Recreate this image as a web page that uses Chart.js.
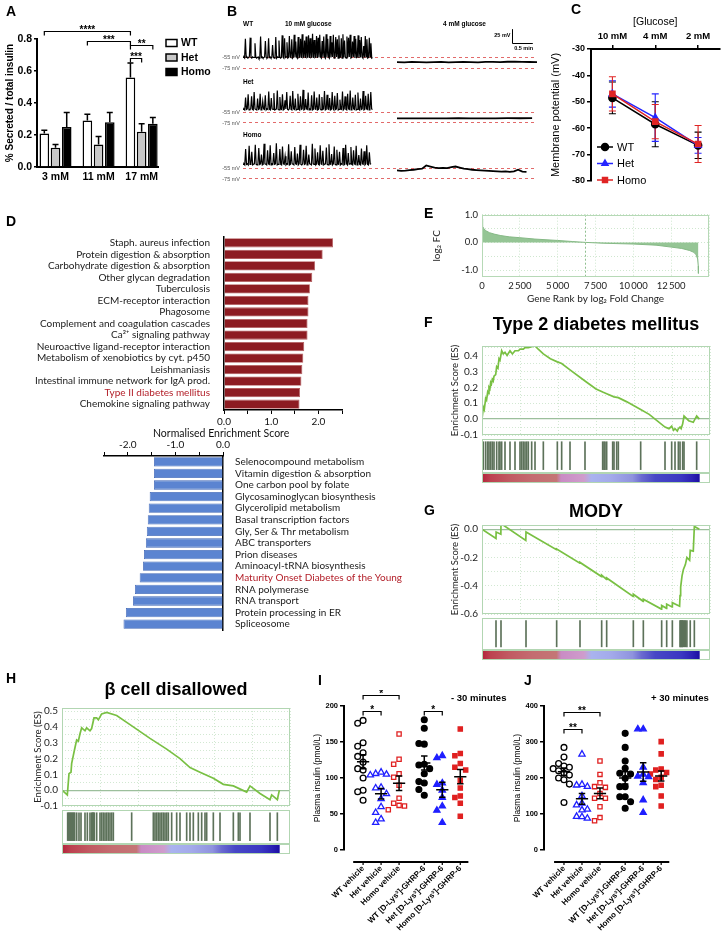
<!DOCTYPE html>
<html lang="en">
<head>
<meta charset="utf-8">
<title>Figure</title>
<script src="https://cdn.jsdelivr.net/npm/chart.js@4.4.1/dist/chart.umd.min.js"></script>
<style>
  html, body { margin: 0; padding: 0; background: #fff; }
  #fig { position: relative; width: 725px; height: 938px; overflow: hidden; font-family: "Liberation Sans", Arial, sans-serif; color: #000; }
  #fig canvas { position: absolute; }
  .t { position: absolute; line-height: 1; white-space: nowrap; will-change: transform; }
  .panel { font-size: 14px; font-weight: bold; }
  .trace { font-size: 6.5px; font-weight: bold; color: #000; }
  .gsea { font-size: 18px; font-weight: bold; transform: translateX(-50%); }
  .time { font-size: 9.5px; font-weight: bold; }
  .nes { font-family: Lato, "Open Sans", sans-serif; font-size: 10.5px; color: #111; }
</style>
</head>
<body>
<div id="fig">
  <div class="t panel" style="left:6px;top:4px">A</div>
  <div class="t panel" style="left:227px;top:4px">B</div>
  <div class="t panel" style="left:571px;top:2px">C</div>
  <div class="t panel" style="left:6px;top:214px">D</div>
  <div class="t panel" style="left:424px;top:206px">E</div>
  <div class="t panel" style="left:424px;top:315px">F</div>
  <div class="t panel" style="left:424px;top:503px">G</div>
  <div class="t panel" style="left:6px;top:671px">H</div>
  <div class="t panel" style="left:318px;top:673px">I</div>
  <div class="t panel" style="left:524px;top:673px">J</div>

  <div class="t trace" style="left:243px;top:21px">WT</div>
  <div class="t trace" style="left:285px;top:21px">10 mM glucose</div>
  <div class="t trace" style="left:443px;top:21px">4 mM glucose</div>
  <div class="t trace" style="left:243px;top:79px">Het</div>
  <div class="t trace" style="left:243px;top:132px">Homo</div>

  <div class="t nes" style="left:153px;top:428px">Normalised Enrichment Score</div>

  <div class="t gsea" style="left:596px;top:315px">Type 2 diabetes mellitus</div>
  <div class="t gsea" style="left:596px;top:502px">MODY</div>
  <div class="t gsea" style="left:176px;top:680px">β cell disallowed</div>

  <div class="t time" style="left:451px;top:693px">- 30 minutes</div>
  <div class="t time" style="left:651px;top:693px">+ 30 minutes</div>
</div>
<script>
// ---------- data ----------
// A: insulin secretion
const doses = ['3 mM', '11 mM', '17 mM'];
const secretedWT = [0.21, 0.29, 0.56];
const secretedWTErr = [0.02, 0.04, 0.09];
const secretedHet = [0.12, 0.14, 0.22];
const secretedHetErr = [0.02, 0.05, 0.05];
const secretedHomo = [0.25, 0.28, 0.27];
const secretedHomoErr = [0.09, 0.06, 0.04];
// [dataset, dose] pairs joined by a bracket
const secretionSig = [
  { from: [0, 0], to: [0, 2], at: 0.85, text: '****' },
  { from: [0, 1], to: [0, 2], at: 0.79, text: '***' },
  { from: [0, 2], to: [2, 2], at: 0.76, text: '**' },
  { from: [0, 2], to: [1, 2], at: 0.68, text: '***' },
];

// B: membrane potential recordings (mV), sampled evenly over each window (s)
const traceWT10 = [-55,-54,-56,-22,-55,-54,-56,-55,-53,-20,-55,-56,-54,-55,-55,-30,-54,-56,-55,-54,-57,-56,-18,-55,-54,-56,-55,-54,-26,-55,-56,-54,-21,-55,-54,-56,-55,-33,-54,-56,-55,-19,-56,-54,-55,-25,-54,-56,-55,-16,-54,-56,-21,-55,-54,-28,-56,-55,-17,-54,-55,-23,-56,-54,-15,-55,-27,-54,-56,-19,-55,-54,-22,-56,-14,-55,-54,-25,-56,-18,-55,-54,-16,-56,-21,-55,-54,-13,-56,-24,-55,-54,-17,-56,-20,-55,-15,-54,-56,-26,-55,-18,-54,-56,-14,-55,-22,-54,-56,-17,-55,-28,-54,-15,-56,-55,-19,-54,-23,-56,-16,-55,-54,-21,-56,-14,-55,-25,-54,-56,-18,-55,-20,-54,-15,-56,-55,-27,-54,-17,-56,-22,-55,-54,-16,-56,-24,-55,-19,-54,-56,-35,-55,-17,-54,-23,-56,-55,-20,-54,-30,-56,-55];
const traceWT4 = [-63,-63.5,-62.8,-63.2,-63.6,-63,-62.7,-63.4,-63.1,-62.9,-63.3,-63.5,-62.6,-62.8,-63,-62.5,-62.2,-62.6,-62.9,-63.1];
const traceHet10 = [-50,-49,-51,-28,-50,-49,-22,-51,-50,-49,-26,-50,-51,-18,-49,-50,-51,-30,-50,-49,-21,-51,-50,-35,-49,-50,-24,-51,-49,-50,-17,-50,-51,-29,-49,-50,-20,-51,-50,-49,-15,-50,-51,-27,-49,-50,-22,-51,-50,-33,-49,-18,-50,-51,-49,-25,-50,-51,-16,-49,-50,-30,-51,-50,-21,-49,-51,-26,-50,-49,-14,-51,-50,-31,-49,-50,-19,-51,-49,-50,-24,-51,-50,-17,-49,-50,-28,-51,-50,-22,-49,-51,-27,-50,-49,-16,-51,-50,-23,-49,-50,-29,-51,-50,-18,-49,-51,-25,-50,-49,-20,-51,-50,-32,-49,-50,-17,-51,-49,-26,-50,-51,-21,-49,-50,-15,-51,-50,-28,-49,-50,-23,-51,-50,-19,-49,-51,-30,-50,-49,-16,-51,-50,-25,-49,-50,-21,-51,-50,-18,-49,-50];
const traceHet4 = [-66.5,-66.6,-66.4,-66.5,-66.5,-66.3,-66.4,-66.5,-66.4,-66.2,-66.3,-66.2];
const traceHomo10 = [-48,-47,-49,-20,-48,-47,-49,-14,-48,-47,-25,-49,-48,-47,-12,-48,-49,-47,-18,-48,-47,-30,-49,-48,-10,-47,-48,-49,-22,-47,-48,-13,-49,-47,-48,-27,-48,-47,-9,-49,-48,-47,-20,-48,-49,-15,-47,-48,-33,-49,-47,-48,-11,-49,-48,-24,-47,-48,-49,-16,-47,-48,-28,-49,-47,-12,-48,-49,-47,-21,-48,-47,-14,-49,-48,-30,-47,-48,-49,-10,-47,-48,-19,-49,-47,-26,-48,-49,-13,-47,-48,-23,-49,-48,-47,-17,-48,-49,-11,-47,-48,-29,-49,-47,-15,-48,-49,-21,-47,-48,-25,-49,-47,-48,-18,-49,-48,-12,-47,-49,-27,-48,-47,-16,-48,-49,-22,-47,-48,-14,-49,-47,-31,-48,-49,-19,-47,-48,-24,-49,-47,-13,-48,-49,-26,-47,-48];
const traceHomo4 = [-59,-60,-59.5,-58.5,-58,-57,-56,-50,-52,-54,-55,-54.5,-55,-53,-52,-54,-56,-57,-58,-58.5,-59,-59.5,-60,-60.5,-61,-61.5,-61,-62,-61,-58,-61.5,-62];
const windowsWT = [[0, 185], [220, 420]];
const windowsHet = [[0, 185], [220, 413]];
const windowsHomo = [[0, 183], [220, 405]];
const membraneRefs = [-75, -55];

// C: membrane potential vs glucose
const glucose = ['10 mM', '4 mM', '2 mM'];
const vmWT = [-48.5, -58.5, -66.5];
const vmWTErr = [6, 8.5, 5];
const vmHet = [-47, -56, -66.5];
const vmHetErr = [5, 9, 3];
const vmHomo = [-47, -57.5, -66];
const vmHomoErr = [6.5, 6.5, 7];

// D: KEGG pathways by normalised enrichment score
const upPathways = ['Staph. aureus infection', 'Protein digestion & absorption', 'Carbohydrate digestion & absorption',
  'Other glycan degradation', 'Tuberculosis', 'ECM-receptor interaction', 'Phagosome', 'Complement and coagulation cascades',
  'Ca²⁺ signaling pathway', 'Neuroactive ligand-receptor interaction', 'Metabolism of xenobiotics by cyt. p450',
  'Leishmaniasis', 'Intestinal immune network for IgA prod.', 'Type II diabetes mellitus', 'Chemokine signaling pathway'];
const upNES = [2.31, 2.09, 1.93, 1.87, 1.82, 1.79, 1.79, 1.77, 1.77, 1.70, 1.68, 1.66, 1.64, 1.61, 1.60];
const downPathways = ['Selenocompound metabolism', 'Vitamin digestion & absorption', 'One carbon pool by folate',
  'Glycosaminoglycan biosynthesis', 'Glycerolipid metabolism', 'Basal transcription factors', 'Gly, Ser & Thr metabolism',
  'ABC transporters', 'Prion diseases', 'Aminoacyl-tRNA biosynthesis', 'Maturity Onset Diabetes of the Young',
  'RNA polymerase', 'RNA transport', 'Protein processing in ER', 'Spliceosome'];
const downNES = [-1.45, -1.45, -1.45, -1.54, -1.56, -1.58, -1.60, -1.62, -1.66, -1.68, -1.75, -1.85, -1.89, -2.04, -2.09];
const highlighted = ['Type II diabetes mellitus', 'Maturity Onset Diabetes of the Young'];
const upTicks = [0, 0.5, 1, 1.5, 2, 2.5];
const downTicks = [-2.5, -2, -1.5, -1, -0.5, 0];

// E: ranked log2 fold change [rank, log2FC]
const foldChange = [[0, 0.85], [20, 0.7], [60, 0.58], [120, 0.5], [250, 0.42], [500, 0.35], [800, 0.3], [1200, 0.25],
  [1800, 0.2], [2500, 0.17], [3500, 0.12], [5000, 0.07], [6000, 0.03], [6830, 0], [8000, -0.03], [10000, -0.06],
  [11500, -0.1], [12500, -0.17], [13200, -0.22], [13700, -0.29], [14000, -0.36], [14150, -0.45], [14250, -0.6],
  [14290, -0.85], [14300, -1.12]];
const fcTicks = [-1, -0.5, 0, 0.5, 1];
const zeroCrossRank = 6830;
const rankMax = 15000;

// F-H: running enrichment score [rank, ES] and gene-set hit ranks
const esType2 = [[0, 0], [88, 0.075], [150, 0.06], [241, 0.13], [300, 0.12], [373, 0.17], [420, 0.16], [460, 0.2],
  [520, 0.19], [570, 0.23], [620, 0.22], [680, 0.25], [740, 0.24], [790, 0.27], [900, 0.28], [965, 0.33], [1050, 0.32],
  [1118, 0.38], [1184, 0.37], [1294, 0.43], [1400, 0.41], [1513, 0.42], [1650, 0.40], [1842, 0.43], [2000, 0.41],
  [2171, 0.43], [2400, 0.43], [2500, 0.44], [2610, 0.44], [2720, 0.44], [2829, 0.45], [2939, 0.45], [3048, 0.45],
  [3268, 0.455], [3487, 0.46], [3700, 0.44], [4035, 0.41], [4500, 0.38], [4956, 0.36], [5241, 0.35], [5790, 0.31],
  [6776, 0.24], [7500, 0.19], [7939, 0.17], [8202, 0.16], [8684, 0.14], [8969, 0.135], [9500, 0.11], [10439, 0.06],
  [11000, 0.03], [12040, -0.05], [12300, -0.06], [12479, -0.045], [12600, -0.07], [12698, -0.06], [12850, -0.075],
  [12918, -0.06], [13028, -0.05], [13100, -0.06], [13203, -0.03], [13290, 0.02], [13600, -0.01], [13900, -0.02],
  [14123, 0.02], [14300, 0]];
const hitsType2 = [88, 241, 373, 460, 570, 680, 790, 965, 1118, 1184, 1294, 1513, 1842, 2171, 2500, 2610, 2720, 2829,
  2939, 3048, 3268, 3487, 4035, 4956, 5241, 5790, 6776, 7939, 8026, 8092, 8202, 8597, 8684, 8860, 8969, 10439, 12040,
  12479, 12698, 12918, 13028, 13203, 13290, 14123];
const ticksType2 = [-0.1, -0.05, 0, 0.05, 0.1, 0.15, 0.2, 0.25, 0.3, 0.35, 0.4, 0.45];
const esMody = [[0, 0], [920, -0.065], [930, -0.02], [1240, -0.035], [1250, 0.04], [2880, -0.08], [2895, -0.02],
  [4900, -0.145], [4912, -0.14], [6440, -0.24], [6447, -0.235], [7860, -0.335], [7873, -0.325], [8190, -0.355],
  [8202, -0.345], [9940, -0.475], [9956, -0.46], [10600, -0.51], [10614, -0.495], [11800, -0.565], [11820, -0.54],
  [12140, -0.56], [12150, -0.53], [12500, -0.55], [12523, -0.52], [13000, -0.545], [13028, -0.47], [13070, -0.41],
  [13160, -0.33], [13250, -0.285], [13380, -0.25], [13480, -0.2], [13660, -0.22], [13700, -0.15], [13900, -0.155],
  [13970, 0.02], [14300, 0]];
const hitsMody = [921, 1250, 2895, 4912, 6447, 7873, 8202, 9956, 10614, 11820, 12150, 12523, 13028, 13070, 13110,
  13160, 13200, 13250, 13330, 13380, 13480, 13700, 13970];
const ticksMody = [-0.6, -0.5, -0.4, -0.3, -0.2, -0.1, 0];
const esDisallowed = [[0, 0], [351, -0.03], [460, 0.105], [592, 0.114], [636, 0.17], [746, 0.22], [855, 0.27],
  [965, 0.318], [1075, 0.31], [1184, 0.357], [1294, 0.395], [1513, 0.376], [1623, 0.395], [1842, 0.376], [1950, 0.39],
  [2105, 0.457], [2280, 0.457], [2390, 0.445], [2610, 0.483], [2939, 0.492], [3597, 0.473], [4474, 0.415],
  [5790, 0.328], [6886, 0.26], [7763, 0.2], [8421, 0.143], [9079, 0.114], [9956, 0.076], [10614, 0.037],
  [11272, 0.027], [12149, -0.012], [12368, 0.027], [13026, -0.021], [13684, -0.06], [13794, -0.03], [14167, -0.06],
  [14300, 0]];
const hitsDisallowed = [373, 439, 504, 570, 636, 702, 768, 833, 965, 1118, 1250, 1513, 1667, 1842, 1952, 2018, 2061,
  2127, 2281, 2500, 2610, 2719, 2829, 2939, 3048, 3158, 3268, 3377, 4583, 6009, 6118, 6228, 6338, 6447, 6557, 6667,
  6776, 6886, 6996, 7215, 7544, 7763, 8202, 8421, 8640, 8969, 9189, 9408, 9518, 9956, 10395, 11272, 11601, 11711,
  12368, 13684, 14167];
const ticksDisallowed = [-0.1, -0.05, 0, 0.05, 0.1, 0.15, 0.2, 0.25, 0.3, 0.35, 0.4, 0.45, 0.5];
const stripRanks = [0, 570, 1800, 3300, 4900, 5200, 6700, 7200, 8500, 9900, 10500, 11400, 13100, 13800, 14300];

// I-J: plasma insulin (pmol/L)
const treatments = ['WT vehicle', 'Het vehicle', 'Homo vehicle', 'WT [D-Lys³]-GHRP-6', 'Het [D-Lys³]-GHRP-6', 'Homo [D-Lys³]-GHRP-6'];
const minus30WTVeh = [180, 176, 149, 144, 135, 130, 122, 113, 111, 100, 83, 81, 69];
const minus30HetVeh = [108, 106, 105, 104, 87, 86, 78, 71, 60, 52, 43, 38];
const minus30HomoVeh = [161, 126, 119, 106, 101, 90, 72, 65, 62, 61, 56];
const minus30WTLys = [181, 169, 147, 148, 119, 118, 113, 106, 93, 95, 84, 76];
const minus30HetLys = [131, 128, 93, 91, 83, 73, 61, 55, 38];
const minus30HomoLys = [168, 134, 131, 120, 115, 111, 97, 86, 75, 73, 65, 47];
const plus30WTVeh = [285, 258, 240, 233, 230, 226, 220, 214, 208, 200, 195, 183, 132];
const plus30HetVeh = [266, 182, 180, 176, 150, 130, 125, 113, 111, 93, 92, 88];
const plus30HomoVeh = [247, 210, 187, 176, 174, 157, 144, 144, 120, 90, 81];
const plus30WTLys = [324, 285, 247, 227, 213, 211, 199, 176, 176, 148, 148, 134, 116];
const plus30HetLys = [336, 336, 230, 210, 205, 203, 187, 139, 104];
const plus30HomoLys = [301, 267, 225, 222, 215, 211, 202, 196, 180, 176, 150, 122];
const minus30Sig = [{ from: 0, to: 1, at: 193, text: '*' }, { from: 0, to: 2, at: 215, text: '*' }, { from: 3, to: 4, at: 193, text: '*' }];
const plus30Sig = [{ from: 0, to: 1, at: 336, text: '**' }, { from: 0, to: 2, at: 383, text: '**' }];

// ---------- setup ----------
const SANS = '"Liberation Sans", Arial, sans-serif';
const HUMAN = 'Lato, "Open Sans", sans-serif';
Chart.defaults.font.family = SANS;
Chart.defaults.color = '#000';
Chart.defaults.animation = false;
Chart.defaults.responsive = false;
Chart.defaults.events = [];
Chart.defaults.plugins.legend.display = false;
Chart.defaults.plugins.tooltip.enabled = false;

const fig = document.getElementById('fig');
function place(x, y, w, h, config) {
  const cv = document.createElement('canvas');
  cv.width = w;
  cv.height = h;
  cv.style.left = x + 'px';
  cv.style.top = y + 'px';
  cv.style.width = w + 'px';
  cv.style.height = h + 'px';
  fig.appendChild(cv);
  return new Chart(cv, config);
}

// ---------- plugins ----------
const framePlugin = (color) => ({
  id: 'frame',
  afterDraw(chart) {
    const { ctx, chartArea: a } = chart;
    ctx.save();
    ctx.strokeStyle = color;
    ctx.lineWidth = 1;
    ctx.strokeRect(Math.round(a.left) + 0.5, Math.round(a.top) + 0.5, Math.round(a.right - a.left) - 1, Math.round(a.bottom - a.top) - 1);
    ctx.restore();
  },
});

function errorBarsPlugin(both, cap) {
  const draw = (chart) => {
    const { ctx, scales: { y } } = chart;
    chart.data.datasets.forEach((ds, i) => {
      chart.getDatasetMeta(i).data.forEach((el, j) => {
        const raw = ds.data[j];
        const v = typeof raw === 'number' ? raw : raw.y;
        const hi = y.getPixelForValue(v + ds.err[j]);
        const lo = both ? y.getPixelForValue(v - ds.err[j]) : el.y;
        ctx.save();
        ctx.strokeStyle = both ? ds.borderColor : '#000';
        ctx.lineWidth = both ? 1.1 : 1.5;
        ctx.beginPath();
        ctx.moveTo(el.x, lo);
        ctx.lineTo(el.x, hi);
        ctx.moveTo(el.x - cap, hi);
        ctx.lineTo(el.x + cap, hi);
        if (both) {
          ctx.moveTo(el.x - cap, lo);
          ctx.lineTo(el.x + cap, lo);
        }
        ctx.stroke();
        ctx.restore();
      });
    });
  };
  return both ? { id: 'errorBars', beforeDatasetsDraw: draw } : { id: 'errorBars', afterDatasetsDraw: draw };
}

function bracketsPlugin(items, font, xOf) {
  return {
    id: 'brackets',
    afterDraw(chart) {
      const { ctx, scales: { y } } = chart;
      ctx.save();
      ctx.strokeStyle = '#000';
      ctx.fillStyle = '#000';
      ctx.lineWidth = 1.2;
      ctx.font = font;
      ctx.textAlign = 'center';
      ctx.textBaseline = 'alphabetic';
      items.forEach((b) => {
        const x1 = xOf(chart, b.from);
        const x2 = xOf(chart, b.to);
        const py = Math.round(y.getPixelForValue(b.at)) + 0.5;
        ctx.beginPath();
        ctx.moveTo(x1, py + 4);
        ctx.lineTo(x1, py);
        ctx.lineTo(x2, py);
        ctx.lineTo(x2, py + 4);
        ctx.stroke();
        ctx.fillText(b.text, (x1 + x2) / 2, py + 1.5);
      });
      ctx.restore();
    },
  };
}

const meanSemPlugin = {
  id: 'meanSem',
  afterDatasetsDraw(chart) {
    const { ctx, scales: { x, y } } = chart;
    chart.data.datasets.forEach((ds) => {
      const n = ds.values.length;
      const m = ds.values.reduce((s, v) => s + v, 0) / n;
      const sd = Math.sqrt(ds.values.reduce((s, v) => s + (v - m) ** 2, 0) / (n - 1));
      const se = sd / Math.sqrt(n);
      const c = ds.center;
      const t = y.getPixelForValue(m + se);
      const b = y.getPixelForValue(m - se);
      const my = y.getPixelForValue(m);
      ctx.save();
      ctx.strokeStyle = '#000';
      ctx.lineWidth = 1.5;
      ctx.beginPath();
      ctx.moveTo(x.getPixelForValue(c - 0.34), my);
      ctx.lineTo(x.getPixelForValue(c + 0.34), my);
      ctx.moveTo(x.getPixelForValue(c), t);
      ctx.lineTo(x.getPixelForValue(c), b);
      ctx.moveTo(x.getPixelForValue(c - 0.18), t);
      ctx.lineTo(x.getPixelForValue(c + 0.18), t);
      ctx.moveTo(x.getPixelForValue(c - 0.18), b);
      ctx.lineTo(x.getPixelForValue(c + 0.18), b);
      ctx.stroke();
      ctx.restore();
    });
  },
};

function offsetAxisPlugin(from, to, gap) {
  return {
    id: 'offsetAxis',
    afterDraw(chart) {
      const { ctx, chartArea: a, scales: { x } } = chart;
      const yy = a.bottom + gap;
      ctx.save();
      ctx.strokeStyle = '#000';
      ctx.lineWidth = 2;
      ctx.beginPath();
      ctx.moveTo(x.getPixelForValue(from), yy);
      ctx.lineTo(x.getPixelForValue(to), yy);
      ctx.stroke();
      ctx.lineWidth = 1.2;
      ctx.beginPath();
      x.ticks.forEach((t) => {
        const p = x.getPixelForValue(t.value);
        ctx.moveTo(p, yy);
        ctx.lineTo(p, yy + 3);
      });
      ctx.stroke();
      ctx.restore();
    },
  };
}

// ---------- A ----------
const secretion = [
  { label: 'WT', values: secretedWT, err: secretedWTErr, fill: '#ffffff' },
  { label: 'Het', values: secretedHet, err: secretedHetErr, fill: '#c8c8c8' },
  { label: 'Homo', values: secretedHomo, err: secretedHomoErr, fill: '#000000' },
];
const secretionLegend = {
  id: 'secretionLegend',
  afterDraw(chart) {
    const { ctx } = chart;
    ctx.save();
    ctx.font = 'bold 10.5px ' + SANS;
    ctx.textBaseline = 'middle';
    ctx.lineWidth = 1.5;
    chart.data.datasets.forEach((ds, i) => {
      const yy = 43 + i * 14.5;
      ctx.fillStyle = ds.backgroundColor;
      ctx.fillRect(166, yy - 3.5, 11, 7);
      ctx.strokeStyle = '#000';
      ctx.strokeRect(166, yy - 3.5, 11, 7);
      ctx.fillStyle = '#000';
      ctx.fillText(ds.label, 181, yy + 0.5);
    });
    ctx.restore();
  },
};
place(0, 0, 240, 190, {
  type: 'bar',
  data: {
    datasets: secretion.map((s) => ({
      label: s.label,
      data: s.values.map((v, i) => ({ x: i, y: v })),
      err: s.err,
      backgroundColor: s.fill,
      borderColor: '#000',
      borderWidth: 1.5,
      categoryPercentage: 0.78,
      barPercentage: 0.86,
    })),
  },
  options: {
    layout: { padding: { left: 0, top: 39, right: 82, bottom: 0 } },
    scales: {
      x: {
        type: 'linear', offset: false, min: -0.43, max: 2.38,
        afterBuildTicks: (s) => { s.ticks = doses.map((_, i) => ({ value: i })); },
        afterFit: (s) => { s.height = 23; },
        ticks: { callback: (v, i) => doses[i], font: { size: 10.5, weight: 'bold' }, padding: 4, maxRotation: 0 },
        grid: { display: false, drawTicks: false },
        border: { color: '#000', width: 2 },
      },
      y: {
        min: 0, max: 0.8,
        afterFit: (s) => { s.width = 37; },
        ticks: { stepSize: 0.2, callback: (v) => v.toFixed(1), font: { size: 10.5, weight: 'bold' }, padding: 2 },
        grid: { drawOnChartArea: false, color: '#000', tickLength: 3, lineWidth: 1.5 },
        border: { color: '#000', width: 2 },
        title: { display: true, text: '% Secreted / total insulin', font: { size: 10, weight: 'bold' }, padding: { top: 4, bottom: 2 } },
      },
    },
  },
  plugins: [
    errorBarsPlugin(false, 3),
    bracketsPlugin(secretionSig, 'bold 10px ' + SANS, (chart, e) => chart.getDatasetMeta(e[0]).data[e[1]].x),
    secretionLegend,
  ],
});

// ---------- B ----------
const toPoints = (values, win) => values.map((v, i) => ({ x: win[0] + (win[1] - win[0]) * i / (values.length - 1), y: v }));
const scaleBar = {
  id: 'scaleBar',
  afterDraw(chart) {
    const { ctx, scales: { x, y } } = chart;
    const x0 = Math.round(x.getPixelForValue(384)) + 0.5;
    const x1 = x.getPixelForValue(414);
    const yTop = y.getPixelForValue(-5);
    const yBot = Math.round(y.getPixelForValue(-30)) + 0.5;
    ctx.save();
    ctx.strokeStyle = '#000';
    ctx.lineWidth = 1;
    ctx.beginPath();
    ctx.moveTo(x0, yTop);
    ctx.lineTo(x0, yBot);
    ctx.lineTo(x1, yBot);
    ctx.stroke();
    ctx.fillStyle = '#000';
    ctx.font = 'bold 5.5px ' + SANS;
    ctx.textAlign = 'right';
    ctx.textBaseline = 'middle';
    ctx.fillText('25 mV', x0 - 2, (yTop + yBot) / 2 - 1);
    ctx.textAlign = 'center';
    ctx.textBaseline = 'top';
    ctx.fillText('0.5 min', (x0 + x1) / 2 + 1, yBot + 2);
    ctx.restore();
  },
};
function traceChart(top, padTop, on, off, wins, extra) {
  return place(215, top, 330, 48 + padTop + 4, {
    type: 'line',
    data: {
      datasets: [
        { data: toPoints(on, wins[0]), borderColor: '#000', borderWidth: 1.2, pointRadius: 0 },
        { data: toPoints(off, wins[1]), borderColor: '#000', borderWidth: 1.8, pointRadius: 0 },
      ],
    },
    options: {
      layout: { padding: { left: 0, top: padTop, right: 8, bottom: 4 } },
      scales: {
        x: { type: 'linear', min: 0, max: 420, display: false },
        y: {
          min: -80, max: 0,
          afterFit: (s) => { s.width = 28; },
          afterBuildTicks: (s) => { s.ticks = membraneRefs.map((v) => ({ value: v })); },
          ticks: { font: { size: 5.5 }, color: '#555', padding: 3, autoSkip: false, callback: (v) => v + ' mV' },
          grid: { color: '#e26a6a', lineWidth: 1, drawTicks: false },
          border: { display: false, dash: [3, 3] },
        },
      },
    },
    plugins: extra,
  });
}
traceChart(20, 6, traceWT10, traceWT4, windowsWT, [scaleBar]);
traceChart(76, 4, traceHet10, traceHet4, windowsHet, []);
traceChart(132, 4, traceHomo10, traceHomo4, windowsHomo, []);

// ---------- C ----------
const vmLegend = {
  id: 'vmLegend',
  afterDraw(chart) {
    const { ctx, chartArea: a } = chart;
    ctx.save();
    ctx.font = '11px ' + SANS;
    ctx.textBaseline = 'middle';
    chart.data.datasets.forEach((ds, i) => {
      const yy = a.bottom - 34 + i * 16.5;
      const x0 = a.left + 6;
      ctx.strokeStyle = ds.borderColor;
      ctx.fillStyle = ds.borderColor;
      ctx.lineWidth = 1.5;
      ctx.beginPath();
      ctx.moveTo(x0, yy);
      ctx.lineTo(x0 + 16, yy);
      ctx.stroke();
      Chart.helpers.drawPoint(ctx, { pointStyle: ds.pointStyle, radius: 3.5, borderWidth: 1 }, x0 + 8, yy);
      ctx.fillStyle = '#000';
      ctx.fillText(ds.label, x0 + 20, yy + 0.5);
    });
    ctx.restore();
  },
};
place(545, 0, 180, 190, {
  type: 'line',
  data: {
    labels: glucose,
    datasets: [
      { label: 'WT', data: vmWT, err: vmWTErr, color: '#000000', pointStyle: 'circle', order: 3 },
      { label: 'Het', data: vmHet, err: vmHetErr, color: '#2424ff', pointStyle: 'triangle', order: 2 },
      { label: 'Homo', data: vmHomo, err: vmHomoErr, color: '#e02424', pointStyle: 'rect', order: 1 },
    ].map((d) => ({
      ...d,
      borderColor: d.color,
      backgroundColor: d.color,
      pointBackgroundColor: d.color,
      pointBorderColor: d.color,
      pointRadius: 3.6,
      borderWidth: 1.5,
    })),
  },
  options: {
    layout: { padding: { left: 0, top: 0, right: 5, bottom: 9 } },
    scales: {
      x: {
        position: 'top', offset: true,
        afterFit: (s) => { s.height = 49; },
        ticks: { font: { size: 9.5, weight: 'bold' }, padding: 3 },
        grid: { drawOnChartArea: false, color: '#000', tickLength: 4, lineWidth: 1.5, offset: false },
        border: { color: '#000', width: 2 },
        title: { display: true, text: '[Glucose]', font: { size: 10.5 }, padding: { top: 16, bottom: 2 } },
      },
      y: {
        min: -80, max: -30,
        afterFit: (s) => { s.width = 46; },
        ticks: { stepSize: 10, font: { size: 9, weight: 'bold' }, padding: 2 },
        grid: { drawOnChartArea: false, color: '#000', tickLength: 4, lineWidth: 1.5 },
        border: { color: '#000', width: 2 },
        title: { display: true, text: 'Membrane potential (mV)', font: { size: 11 }, padding: { top: 4, bottom: 2 } },
      },
    },
  },
  plugins: [errorBarsPlugin(true, 3.5), vmLegend],
});

// ---------- D ----------
const pathwayColor = (c) => (c.tick && highlighted.includes(c.tick.label) ? '#b3202a' : '#1a1a1a');
const nesLabel = (v) => (Number.isInteger(v) ? v.toFixed(1) : '');
place(0, 225, 350, 215, {
  type: 'bar',
  data: {
    labels: upPathways,
    datasets: [{ data: upNES, backgroundColor: '#8d1c22', borderColor: '#b45c5e', borderWidth: 0.8, barPercentage: 0.8, categoryPercentage: 1 }],
  },
  options: {
    indexAxis: 'y',
    layout: { padding: { left: 0, top: 7, right: 8, bottom: 0 } },
    scales: {
      x: {
        min: 0, max: 2.5,
        afterBuildTicks: (s) => { s.ticks = upTicks.map((v) => ({ value: v })); },
        afterFit: (s) => { s.height = 30; },
        ticks: { font: { family: HUMAN, size: 10 }, color: '#111', padding: 2, autoSkip: false, callback: nesLabel },
        grid: { drawOnChartArea: false, color: '#000', tickLength: 4, lineWidth: 1 },
        border: { color: '#000', width: 1.5 },
      },
      y: {
        afterFit: (s) => { s.width = 224; },
        ticks: { autoSkip: false, font: { family: HUMAN, size: 10 }, padding: 6, color: pathwayColor },
        grid: { display: false },
        border: { color: '#000', width: 1.5 },
      },
    },
  },
});
place(0, 440, 470, 200, {
  type: 'bar',
  data: {
    labels: downPathways,
    datasets: [{ data: downNES, backgroundColor: '#5b84d1', borderColor: '#3d64b4', borderWidth: 0.8, barPercentage: 0.8, categoryPercentage: 1 }],
  },
  options: {
    indexAxis: 'y',
    layout: { padding: { left: 104, top: 0, right: 0, bottom: 6 } },
    scales: {
      x: {
        position: 'top', min: -2.5, max: 0,
        afterBuildTicks: (s) => { s.ticks = downTicks.map((v) => ({ value: v })); },
        afterFit: (s) => { s.height = 16; },
        ticks: { font: { family: HUMAN, size: 10 }, color: '#111', padding: 1, autoSkip: false, callback: nesLabel },
        grid: { drawOnChartArea: false, color: '#000', tickLength: 4, lineWidth: 1 },
        border: { color: '#000', width: 1.5 },
      },
      y: {
        position: 'right',
        afterFit: (s) => { s.width = 247; },
        ticks: { autoSkip: false, font: { family: HUMAN, size: 10 }, padding: 4, color: pathwayColor },
        grid: { display: false },
        border: { color: '#000', width: 1.5 },
      },
    },
  },
});

// ---------- E ----------
const fmtRank = (v) => (v >= rankMax ? '' : v < 1000 ? String(v) : Math.floor(v / 1000) + '\u2009' + String(v % 1000).padStart(3, '0'));
const zeroCrossLine = {
  id: 'zeroCross',
  afterDatasetsDraw(chart) {
    const { ctx, chartArea: a, scales: { x } } = chart;
    const px = Math.round(x.getPixelForValue(zeroCrossRank)) + 0.5;
    ctx.save();
    ctx.strokeStyle = '#8fbf8f';
    ctx.lineWidth = 1;
    ctx.setLineDash([2, 2]);
    ctx.beginPath();
    ctx.moveTo(px, a.top);
    ctx.lineTo(px, a.bottom);
    ctx.stroke();
    ctx.restore();
  },
};
place(425, 205, 300, 100, {
  type: 'line',
  data: {
    datasets: [{
      data: foldChange.map(([x, y]) => ({ x, y })),
      fill: 'origin', backgroundColor: '#95c595', borderColor: '#86b986', borderWidth: 1, pointRadius: 0,
    }],
  },
  options: {
    layout: { padding: { left: 2, top: 8, right: 16, bottom: 0 } },
    scales: {
      x: {
        type: 'linear', min: 0, max: rankMax,
        afterFit: (s) => { s.height = 28; },
        ticks: { stepSize: 2500, font: { family: HUMAN, size: 9.5 }, color: '#222', padding: 3, autoSkip: false, callback: fmtRank, maxRotation: 0 },
        grid: { color: '#cfe7cf', drawTicks: false },
        border: { display: false, dash: [1, 2] },
        title: { display: true, text: 'Gene Rank by log₂ Fold Change', font: { family: HUMAN, size: 10 }, color: '#222', padding: { top: 1, bottom: 0 } },
      },
      y: {
        min: -1.25, max: 1,
        afterBuildTicks: (s) => { s.ticks = fcTicks.map((v) => ({ value: v })); },
        afterFit: (s) => { s.width = 55; },
        ticks: { font: { family: HUMAN, size: 9.5 }, color: '#222', padding: 4, autoSkip: false, callback: (v) => (Number.isInteger(v) ? v.toFixed(1) : '') },
        grid: { color: '#cfe7cf', drawTicks: false },
        border: { display: false, dash: [1, 2] },
        title: { display: true, text: 'log₂ FC', font: { family: HUMAN, size: 10 }, color: '#222', padding: { top: 4, bottom: 0 } },
      },
    },
  },
  plugins: [zeroCrossLine, framePlugin('#b6d9b6')],
});

// ---------- F-H ----------
const stripColors = ['#b3243a', '#bd4250', '#c15a62', '#c46c70', '#c47676', '#c98bc4', '#cf9ccc', '#a9b3ef',
  '#a3aaea', '#8f93de', '#6a6ad0', '#4747c6', '#3a37c2', '#2c22b5', '#1b0fa3'];
const stripFill = (c) => {
  const x = c.chart.scales.x;
  if (!x) return stripColors[0];
  const last = stripRanks[stripRanks.length - 1];
  const x0 = x.getPixelForValue(0);
  const x1 = x.getPixelForValue(last);
  if (!isFinite(x0) || !isFinite(x1) || x1 <= x0) return stripColors[0];
  const g = c.chart.ctx.createLinearGradient(x0, 0, x1, 0);
  stripRanks.forEach((r, i) => g.addColorStop(r / last, stripColors[i]));
  return g;
};
const isZero = (c) => c.tick && Math.abs(c.tick.value) < 1e-9;
const rankAxis = () => ({ type: 'linear', min: 0, max: rankMax, display: false, offset: false });

function gseaPanel(o) {
  const padL = o.areaLeft - o.left;
  const padR = o.left + o.width - o.areaRight;
  const green = '#b2d6b2';
  place(o.left, o.esTop - 6, o.width, o.esBottom - o.esTop + 12, {
    type: 'line',
    data: { datasets: [{ data: o.curve.map(([x, y]) => ({ x, y })), borderColor: '#79c043', borderWidth: 1.7, pointRadius: 0 }] },
    options: {
      layout: { padding: { left: 0, right: padR, top: 6, bottom: 6 } },
      scales: {
        x: {
          type: 'linear', min: 0, max: rankMax,
          afterFit: (s) => { s.height = 0; },
          ticks: { display: false, stepSize: 2500 },
          grid: { color: '#d2e8d2', drawTicks: false },
          border: { display: false, dash: [1, 2] },
        },
        y: {
          min: o.yMin, max: o.yMax,
          afterBuildTicks: (s) => { s.ticks = o.ticks.map((v) => ({ value: v })); },
          afterFit: (s) => { s.width = padL; },
          ticks: {
            font: { family: HUMAN, size: 10 }, color: '#222', padding: 4, autoSkip: false,
            callback: (v) => {
              const k = v / o.labelStep;
              return Math.abs(k - Math.round(k)) < 1e-6 ? (Math.round(v * 10) / 10).toFixed(1) : '';
            },
          },
          grid: { drawTicks: false, color: (c) => (isZero(c) ? '#9cbf9c' : '#d2e8d2'), lineWidth: (c) => (isZero(c) ? 1.3 : 1) },
          border: { display: false, dash: (c) => (isZero(c) ? [] : [1, 2]) },
          title: { display: true, text: 'Enrichment Score (ES)', font: { family: HUMAN, size: 9.5 }, color: '#222', padding: { top: 4, bottom: 0 } },
        },
      },
    },
    plugins: [framePlugin(green)],
  });
  place(o.left, o.esBottom, o.width, o.hitBottom - o.esBottom, {
    type: 'bar',
    data: { datasets: [{ data: o.hits.map((r) => ({ x: r, y: [0.1, 0.92] })), backgroundColor: '#5d725a', barThickness: 1 }] },
    options: {
      layout: { padding: { left: padL, right: padR, top: 0, bottom: 0 } },
      scales: { x: rankAxis(), y: { min: 0, max: 1, display: false } },
    },
    plugins: [framePlugin(green)],
  });
  place(o.left, o.hitBottom, o.width, o.stripBottom - o.hitBottom, {
    type: 'bar',
    data: {
      labels: ['ranked genes'],
      datasets: [{ data: [[0, stripRanks[stripRanks.length - 1]]], backgroundColor: stripFill, barPercentage: 1, categoryPercentage: 1 }],
    },
    options: {
      indexAxis: 'y',
      layout: { padding: { left: padL, right: padR, top: 0, bottom: 0 } },
      scales: { x: rankAxis(), y: { display: false } },
    },
    plugins: [framePlugin(green)],
  });
}
gseaPanel({ left: 445, width: 280, areaLeft: 482, areaRight: 710, esTop: 342, esBottom: 439, hitBottom: 473, stripBottom: 483,
  curve: esType2, hits: hitsType2, ticks: ticksType2, yMin: -0.1, yMax: 0.46, labelStep: 0.1 });
gseaPanel({ left: 445, width: 280, areaLeft: 482, areaRight: 710, esTop: 521, esBottom: 618, hitBottom: 650, stripBottom: 660,
  curve: esMody, hits: hitsMody, ticks: ticksMody, yMin: -0.6, yMax: 0.03, labelStep: 0.2 });
gseaPanel({ left: 28, width: 272, areaLeft: 62, areaRight: 290, esTop: 704, esBottom: 810, hitBottom: 844, stripBottom: 854,
  curve: esDisallowed, hits: hitsDisallowed, ticks: ticksDisallowed, yMin: -0.1, yMax: 0.52, labelStep: 0.1 });

// ---------- I-J ----------
const groupStyle = [
  { shape: 'circle', color: '#000000', filled: false },
  { shape: 'triangle', color: '#1f1fff', filled: false },
  { shape: 'rect', color: '#e02020', filled: false },
  { shape: 'circle', color: '#000000', filled: true },
  { shape: 'triangle', color: '#1f1fff', filled: true },
  { shape: 'rect', color: '#e02020', filled: true },
];
const groupGap = 0.4;
const xPos = treatments.map((_, i) => i + (i >= 3 ? groupGap : 0));

function swarm(values, center, gap, step) {
  const placed = [];
  return values.map((v) => {
    let off = 0;
    for (const k of [0, -1, 1, -2, 2, -3, 3]) {
      off = k * step;
      if (!placed.some((p) => Math.abs(p.v - v) < gap && Math.abs(p.off - off) < step * 0.5)) break;
    }
    placed.push({ v, off });
    return { x: center + off, y: v };
  });
}

function insulinPanel(left, groups, yMax, yStep, sig, gap, xMin, xMax) {
  const datasets = groups.map((vals, i) => {
    const st = groupStyle[i];
    return {
      data: swarm(vals, xPos[i], gap, 0.3),
      values: vals,
      center: xPos[i],
      pointStyle: st.shape,
      pointRadius: st.shape === 'triangle' ? 3.6 : st.shape === 'rect' ? 3 : 2.9,
      pointBorderColor: st.color,
      pointBackgroundColor: st.filled ? st.color : '#ffffff',
      pointBorderWidth: 1.3,
    };
  });
  const items = sig.map((b) => ({ ...b, from: xPos[b.from], to: xPos[b.to] }));
  place(left, 690, 225, 248, {
    type: 'scatter',
    data: { datasets },
    options: {
      layout: { padding: { left: 9, top: 16, right: 225 - (xMax - xMin) * 18 - 44, bottom: 0 } },
      scales: {
        x: {
          type: 'linear', min: xMin, max: xMax,
          afterBuildTicks: (s) => { s.ticks = xPos.map((v) => ({ value: v })); },
          afterFit: (s) => { s.height = 88; },
          ticks: { autoSkip: false, minRotation: 45, maxRotation: 45, padding: 14, font: { size: 8, weight: 'bold' }, callback: (v, i) => treatments[i] },
          grid: { display: false, drawTicks: false },
          border: { display: false },
        },
        y: {
          min: 0, max: yMax,
          afterFit: (s) => { s.width = 35; },
          ticks: { stepSize: yStep, font: { size: 7.5, weight: 'bold' }, padding: 2, autoSkip: false },
          grid: { drawOnChartArea: false, color: '#000', tickLength: 4, lineWidth: 1.5 },
          border: { color: '#000', width: 2 },
          title: { display: true, text: 'Plasma insulin (pmol/L)', font: { size: 8.5 }, padding: { top: 4, bottom: 2 } },
        },
      },
    },
    plugins: [
      meanSemPlugin,
      bracketsPlugin(items, 'bold 10px ' + SANS, (chart, v) => chart.scales.x.getPixelForValue(v)),
      offsetAxisPlugin(xPos[0] - 0.55, xPos[5] + 0.45, 12),
    ],
  });
}
insulinPanel(300, [minus30WTVeh, minus30HetVeh, minus30HomoVeh, minus30WTLys, minus30HetLys, minus30HomoLys], 200, 50, minus30Sig, 10, -1.06, 5.94);
insulinPanel(500, [plus30WTVeh, plus30HetVeh, plus30HomoVeh, plus30WTLys, plus30HetLys, plus30HomoLys], 400, 100, plus30Sig, 19, -1.11, 6.05);
</script>
</body>
</html>
